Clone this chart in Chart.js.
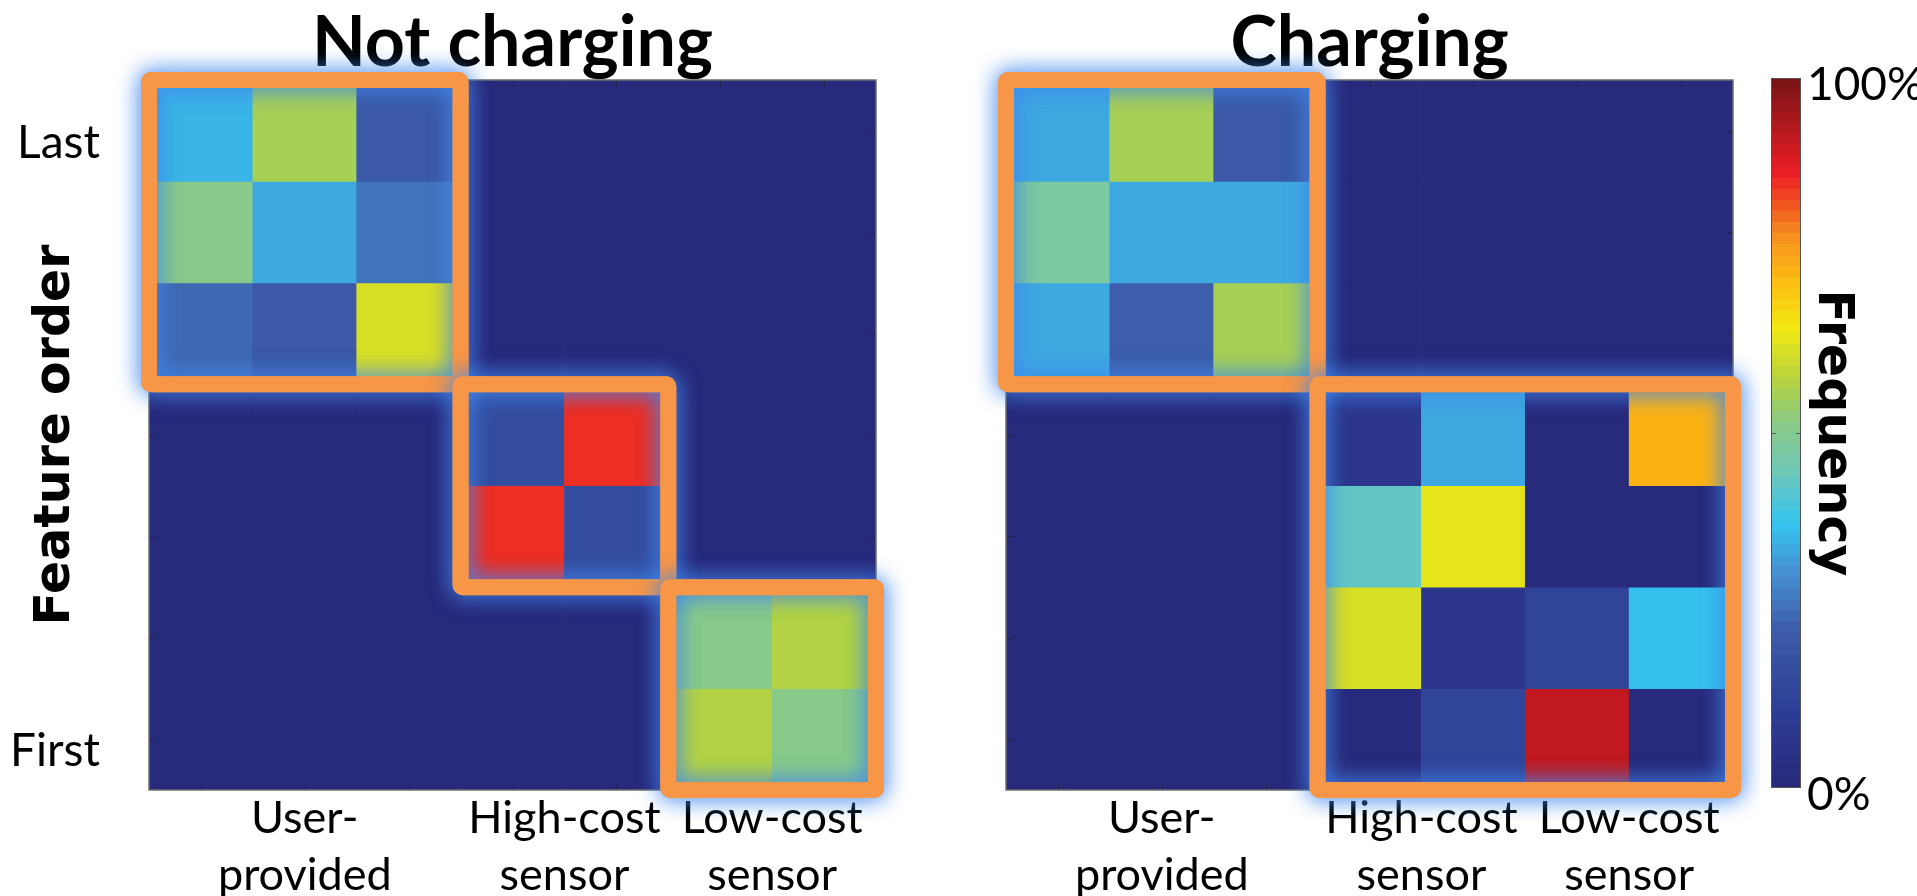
<!DOCTYPE html>
<html>
<head>
<meta charset="utf-8">
<script src="https://cdn.jsdelivr.net/npm/chart.js@4/dist/chart.umd.min.js"></script>
<style>
  html, body { margin: 0; padding: 0; background: #fff; }
  body { width: 1917px; height: 896px; position: relative; overflow: hidden; }
  canvas { position: absolute; top: 0; }
  #notCharging { left: 0; }
  #charging { left: 960px; }
  #colorbar { left: 1760px; }
</style>
</head>
<body>
<canvas id="notCharging" width="960" height="896"></canvas>
<canvas id="charging" width="800" height="896"></canvas>
<canvas id="colorbar" width="157" height="896"></canvas>
<script>
// Feature groups along the x axis and how many features each group holds
const featureGroups = [['User-', 'provided'], ['High-cost', 'sensor'], ['Low-cost', 'sensor']];
const groupSizes = [3, 2, 2];
// Position labels on the y axis (top row = last selected, bottom row = first)
const orderLabels = ['Last', 'First'];
const panelTitles = ['Not charging', 'Charging'];

// Selection frequency (0..1): rows = feature order position, columns = feature
const notChargingFreq = [
  [0.35, 0.56, 0.21, 0.00, 0.00, 0.00, 0.00],
  [0.50, 0.33, 0.26, 0.00, 0.00, 0.00, 0.00],
  [0.24, 0.21, 0.62, 0.00, 0.00, 0.00, 0.00],
  [0.00, 0.00, 0.00, 0.17, 0.85, 0.00, 0.00],
  [0.00, 0.00, 0.00, 0.85, 0.17, 0.00, 0.00],
  [0.00, 0.00, 0.00, 0.00, 0.00, 0.50, 0.57],
  [0.00, 0.00, 0.00, 0.00, 0.00, 0.57, 0.50]
];
const chargingFreq = [
  [0.33, 0.56, 0.21, 0.00, 0.00, 0.00, 0.00],
  [0.47, 0.33, 0.33, 0.00, 0.00, 0.00, 0.00],
  [0.33, 0.22, 0.56, 0.00, 0.00, 0.00, 0.00],
  [0.00, 0.00, 0.00, 0.07, 0.33, 0.00, 0.72],
  [0.00, 0.00, 0.00, 0.43, 0.64, 0.00, 0.00],
  [0.00, 0.00, 0.00, 0.61, 0.07, 0.13, 0.37],
  [0.00, 0.00, 0.00, 0.01, 0.13, 0.92, 0.00]
];
// Highlighted blocks: [first feature, last feature + 1] (same span on both axes)
const notChargingBlocks = [[0, 3], [3, 5], [5, 7]];
const chargingBlocks = [[0, 3], [3, 7]];

// Colour bar
const colorbarTicks = [0, 1];
const colorbarTickLabels = ['0%', '100%'];
const colorbarTitle = 'Frequency';
const yAxisTitle = 'Feature order';

// Colormap anchors
const cmapStops = [0.00, 0.10, 0.22, 0.30, 0.37, 0.45, 0.52, 0.58, 0.65, 0.72, 0.78, 0.87, 1.00];
const cmapColors = ['#282a7b', '#2c3d96', '#3d5da9', '#4690d3', '#35c4f0', '#72c8b4', '#8dca80',
                    '#b9d43a', '#f2e813', '#fcba12', '#f6921e', '#ed1c24', '#7c1416'];
const LEVELS = 64;

const LATO = 'Lato, "Open Sans", sans-serif';
const DEJAVU = '"DejaVu Sans", Verdana, sans-serif';
const ORANGE = '#f79646';

function hexToRgb(h) {
  const n = parseInt(h.slice(1), 16);
  return [(n >> 16) & 255, (n >> 8) & 255, n & 255];
}
function cmap(t) {
  for (let i = 1; i < cmapStops.length; i++) {
    if (t <= cmapStops[i] || i === cmapStops.length - 1) {
      const f = Math.max(0, Math.min(1, (t - cmapStops[i - 1]) / (cmapStops[i] - cmapStops[i - 1])));
      const a = hexToRgb(cmapColors[i - 1]), b = hexToRgb(cmapColors[i]);
      const c = a.map((v, k) => Math.round(v + (b[k] - v) * f));
      return `rgb(${c[0]},${c[1]},${c[2]})`;
    }
  }
}
const levelColor = k => cmap(k / (LEVELS - 1));
const valueColor = v => levelColor(Math.min(LEVELS - 1, Math.floor(v * LEVELS)));

function roundedRect(ctx, x, y, w, h, r) {
  ctx.beginPath();
  ctx.moveTo(x + r, y);
  ctx.arcTo(x + w, y, x + w, y + h, r);
  ctx.arcTo(x + w, y + h, x, y + h, r);
  ctx.arcTo(x, y + h, x, y, r);
  ctx.arcTo(x, y, x + w, y, r);
  ctx.closePath();
}

// Axes frame, inward tick marks and glowing highlight boxes around feature blocks
const cellBlocksPlugin = {
  id: 'cellBlocks',
  afterDatasetsDraw(chart, args, opts) {
    const { ctx, chartArea: a } = chart;
    const xs = chart.scales.x, ys = chart.scales.y;
    ctx.save();
    ctx.strokeStyle = 'rgba(25,25,40,0.55)';
    ctx.lineWidth = 1;
    ctx.beginPath();
    for (let i = 0; i < opts.count; i++) {
      const px = Math.round(xs.getPixelForValue(i + 0.5)) + 0.5;
      const py = Math.round(ys.getPixelForValue(i + 0.5)) + 0.5;
      ctx.moveTo(px, a.top); ctx.lineTo(px, a.top + 7);
      ctx.moveTo(px, a.bottom); ctx.lineTo(px, a.bottom - 7);
      ctx.moveTo(a.left, py); ctx.lineTo(a.left + 7, py);
      ctx.moveTo(a.right, py); ctx.lineTo(a.right - 7, py);
    }
    ctx.stroke();
    ctx.strokeStyle = '#6e6e6e';
    ctx.lineWidth = 1.5;
    ctx.strokeRect(a.left, a.top, a.width, a.height);

    ctx.lineWidth = 16;
    ctx.lineJoin = 'round';
    ctx.strokeStyle = ORANGE;
    ctx.shadowColor = 'rgba(65,135,235,0.7)';
    ctx.shadowBlur = 22;
    opts.blocks.forEach(([s, e]) => {
      const x0 = xs.getPixelForValue(s), x1 = xs.getPixelForValue(e);
      const y0 = ys.getPixelForValue(s), y1 = ys.getPixelForValue(e);
      roundedRect(ctx, x0, y0, x1 - x0, y1 - y0, 2);
      ctx.stroke();
      ctx.stroke();
    });
    ctx.restore();
  }
};

function heatmapChart(id, matrix, blocks, title, layout) {
  const n = matrix.length;
  const groupTicks = [];
  let start = 0;
  groupSizes.forEach(s => { groupTicks.push(start + s / 2); start += s; });
  return new Chart(document.getElementById(id), {
    type: 'bar',
    data: {
      datasets: matrix.map((row, r) => ({
        data: row.map((v, c) => ({ x: c + 0.5, y: [r, r + 1] })),
        backgroundColor: row.map(valueColor),
        borderWidth: 0,
        grouped: false,
        barPercentage: 1,
        categoryPercentage: 1
      }))
    },
    options: {
      animation: false,
      responsive: false,
      events: [],
      layout: { padding: layout.padding },
      scales: {
        x: {
          type: 'linear', min: 0, max: n, offset: false,
          grid: { display: false, drawTicks: false },
          border: { display: false },
          afterBuildTicks: s => { s.ticks = groupTicks.map(value => ({ value })); },
          afterFit: s => { s.height = layout.xAxisHeight; },
          ticks: {
            autoSkip: false, maxRotation: 0, minRotation: 0, padding: 0, color: '#000',
            font: { family: LATO, size: 45, lineHeight: 1.27 },
            callback: (v, i) => featureGroups[i]
          }
        },
        y: {
          type: 'linear', min: 0, max: n, reverse: true, display: layout.showY,
          grid: { display: false, drawTicks: false },
          border: { display: false },
          afterBuildTicks: s => { s.ticks = [0.5, n - 0.5].map(value => ({ value })); },
          afterFit: s => { s.width = layout.yAxisWidth; },
          ticks: {
            autoSkip: false, padding: 49, labelOffset: 12, color: '#000',
            font: { family: LATO, size: 46 },
            callback: (v, i) => orderLabels[i]
          },
          title: {
            display: true, text: yAxisTitle, color: '#000',
            font: { family: DEJAVU, weight: 'bold', size: 49, lineHeight: 1.2 },
            padding: { top: 27 }
          }
        }
      },
      plugins: {
        legend: { display: false },
        tooltip: { enabled: false },
        title: {
          display: true, text: title, fullSize: false, color: '#000',
          font: { family: LATO, weight: 'bold', size: 70, lineHeight: 1 },
          padding: { top: 8, bottom: 2 }
        },
        cellBlocks: { blocks, count: n }
      }
    },
    plugins: [cellBlocksPlugin]
  });
}

heatmapChart('notCharging', notChargingFreq, notChargingBlocks, panelTitles[0],
  { padding: { left: 0, right: 84, top: 0, bottom: 0 }, xAxisHeight: 106, yAxisWidth: 149, showY: true });
heatmapChart('charging', chargingFreq, chargingBlocks, panelTitles[1],
  { padding: { left: 46, right: 27, top: 0, bottom: 0 }, xAxisHeight: 106, yAxisWidth: 0, showY: false });

// Colour bar: one stacked segment per colormap level
const colorbarFrame = {
  id: 'colorbarFrame',
  afterDatasetsDraw(chart) {
    const { ctx, chartArea: a } = chart;
    const ys = chart.scales.y;
    ctx.save();
    ctx.strokeStyle = '#555';
    ctx.lineWidth = 1;
    ctx.strokeRect(a.left + 0.5, a.top + 0.5, a.width - 1, a.height - 1);
    const py = Math.round(ys.getPixelForValue(0.5)) + 0.5;
    ctx.strokeStyle = 'rgba(40,40,40,0.6)';
    ctx.beginPath();
    ctx.moveTo(a.left, py); ctx.lineTo(a.left + 5, py);
    ctx.moveTo(a.right, py); ctx.lineTo(a.right - 5, py);
    ctx.stroke();
    ctx.restore();
  }
};
const levelIndex = Array.from({ length: LEVELS }, (_, k) => k);
new Chart(document.getElementById('colorbar'), {
  type: 'bar',
  data: {
    labels: [''],
    datasets: levelIndex.map(k => ({
      data: [[k / LEVELS, (k + 1) / LEVELS]],
      backgroundColor: levelColor(k),
      borderWidth: 0,
      grouped: false,
      barPercentage: 1,
      categoryPercentage: 1
    }))
  },
  options: {
    animation: false,
    responsive: false,
    events: [],
    layout: { padding: { left: 11, right: 0, top: 78, bottom: 108 } },
    scales: {
      x: { display: false },
      y: {
        type: 'linear', position: 'right', min: 0, max: 1,
        grid: { display: false, drawTicks: false },
        border: { display: false },
        afterBuildTicks: s => { s.ticks = colorbarTicks.map(value => ({ value })); },
        afterFit: s => { s.width = 116; },
        ticks: {
          autoSkip: false, padding: 6, labelOffset: 7, color: '#000',
          font: { family: LATO, size: 46 },
          callback: (v, i) => colorbarTickLabels[i]
        },
        title: {
          display: true, text: colorbarTitle, color: '#000',
          font: { family: DEJAVU, weight: 'bold', size: 49, lineHeight: 1.2 },
          padding: { top: 56 }
        }
      }
    },
    plugins: { legend: { display: false }, tooltip: { enabled: false } }
  },
  plugins: [colorbarFrame]
});
</script>
</body>
</html>
